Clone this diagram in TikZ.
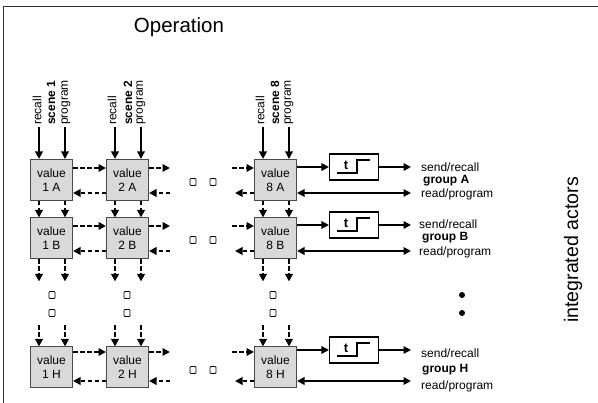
\documentclass[tikz,border=0pt]{standalone}
\usepackage{fontspec}
\setmainfont{Liberation Sans}
\usetikzlibrary{arrows.meta,calc}
\definecolor{boxfill}{HTML}{D9D9D9}
\definecolor{boxline}{HTML}{4A4A4A}
\definecolor{framegray}{HTML}{333333}
\begin{document}
\begin{tikzpicture}[x=1pt,y=-1pt,
  >={Triangle[length=7.5pt,width=7.5pt]},
  valbox/.style={draw=boxline, fill=boxfill, line width=1pt, minimum width=42pt, minimum height=41pt, inner sep=0pt, align=center, font=\fontsize{12}{14}\selectfont},
  tbox/.style={draw=black, line width=1.1pt, minimum width=49pt, minimum height=26pt, inner sep=0pt},
  feed/.style={->, line width=2pt},
  feedthin/.style={->, line width=1.3pt},
  link/.style={->, line width=1.8pt, dash pattern=on 4.5pt off 2.5pt},
  lab/.style={font=\fontsize{12}{13}\selectfont, inner sep=0pt},
  vlab/.style={lab, rotate=90, anchor=west},
  rlab/.style={font=\fontsize{12}{14}\selectfont, inner sep=0pt, anchor=west},
  glyph/.style={draw, line width=0.7pt, minimum width=6pt, minimum height=7pt, rounded corners=0.8pt, inner sep=0pt},
  blob/.style={circle, fill=black, minimum size=6pt, inner sep=0pt},
  frameline/.style={draw=framegray, line width=1.2pt}]
\useasboundingbox (0,0) rectangle (598,403);
\draw[frameline] (3.5,410) -- (3.5,6.5) -- (610,6.5);

\node[font=\fontsize{20.5}{24}\selectfont] (title) at (179,27) {Operation};
\node[rotate=90, font=\fontsize{19.6}{22}\selectfont] (actors) at (573,250) {integrated actors};

% value boxes
\foreach \rr/\yc in {A/180,B/238.5,H/367.5} {
  \node[valbox] (v1\rr) at (51.5,\yc) {value\\1 \rr};
  \node[valbox] (v2\rr) at (127.5,\yc) {value\\2 \rr};
  \node[valbox] (v8\rr) at (275.5,\yc) {value\\8 \rr};
}

% scene labels and inputs
\foreach \cc/\xa/\xb/\xc in {1/37/51/66, 2/112/128/141, 8/260/275/289} {
  \node[vlab] (rec\cc) at (\xa,125) {recall};
  \node[vlab, font=\fontsize{12}{13}\selectfont\bfseries] (sc\cc) at (\xb,125) {scene \cc};
  \node[vlab] (prg\cc) at (\xc,125) {program};
  \draw[feed] ([xshift=-12.5pt,yshift=32pt]v\cc A.north) -- ([xshift=-12.5pt]v\cc A.north);
  \draw[feedthin] ([xshift=13.5pt,yshift=32pt]v\cc A.north) -- ([xshift=13.5pt]v\cc A.north);
  % A -> B
  \draw[link] ([xshift=-12.5pt]v\cc A.south) -- ([xshift=-12.5pt]v\cc B.north);
  \draw[link] ([xshift=13.5pt]v\cc A.south) -- ([xshift=13.5pt]v\cc B.north);
  % below B
  \draw[link] ([xshift=-12.5pt]v\cc B.south) -- ([xshift=-12.5pt,yshift=-22pt]v\cc B.south);
  \draw[link] ([xshift=13.5pt]v\cc B.south) -- ([xshift=13.5pt,yshift=-22pt]v\cc B.south);
  % above H
  \draw[link] ([xshift=-12.5pt,yshift=21pt]v\cc H.north) -- ([xshift=-12.5pt]v\cc H.north);
  \draw[link] ([xshift=13.5pt,yshift=21pt]v\cc H.north) -- ([xshift=13.5pt]v\cc H.north);
}

% horizontal links, t boxes, outputs
\foreach \rr/\yt/\yb/\ty/\wi/\wo/\wb in {A/168/193/167/2/2/1.3, B/226/251/225/1.4/1.4/1.9, H/352/381/350/1.4/1.2/2.3} {
  \draw[link] (v1\rr.east |- 0,\yt) -- (v2\rr.west |- 0,\yt);
  \draw[link] (v2\rr.east |- 0,\yt) -- (170,\yt);
  \draw[link] (232,\yt) -- (v8\rr.west |- 0,\yt);
  \draw[link] (v8\rr.west |- 0,\yb) -- (235,\yb);
  \draw[link] (170,\yb) -- (v2\rr.east |- 0,\yb);
  \draw[link] (v2\rr.west |- 0,\yb) -- (v1\rr.east |- 0,\yb);
  \node[tbox] (t\rr) at (354,\ty) {};
  \node[font=\fontsize{13}{14}\selectfont\bfseries, inner sep=0pt] (tl\rr) at ($(t\rr.center)+(-8,-1.5)$) {t};
  \draw[line width=1.1pt] ($(t\rr.center)+(-17,6)$) -- ++(20,0) -- ++(0,-13) -- ++(13,0);
  \draw[->, line width=\wi pt] (v8\rr.east |- t\rr.west) -- (t\rr.west);
  \draw[->, line width=\wo pt] (t\rr.east) -- (411,\ty);
  \draw[<->, line width=\wb pt] (v8\rr.east |- 0,\yb) -- (411,\yb);
}

% right labels
\node[rlab] (srA) at (421,167) {send/recall};
\node[rlab, font=\fontsize{12}{14}\selectfont\bfseries] (gA) at (423,181) {group A};
\node[rlab] (rpA) at (421,194) {read/program};
\node[rlab] (srB) at (419,224) {send/recall};
\node[rlab, font=\fontsize{12}{14}\selectfont\bfseries] (gB) at (422,238) {group B};
\node[rlab] (rpB) at (419,252) {read/program};
\node[rlab] (srH) at (421,353) {send/recall};
\node[rlab, font=\fontsize{12}{14}\selectfont\bfseries] (gH) at (422,370) {group H};
\node[rlab] (rpH) at (421,386) {read/program};

% ellipsis glyphs
\node[glyph] (eA1) at (193,182) {};
\node[glyph] (eA2) at (213,182) {};
\node[glyph] (eB1) at (193,240) {};
\node[glyph] (eB2) at (213,240) {};
\node[glyph] (eH1) at (193,370) {};
\node[glyph] (eH2) at (213,370) {};
\node[glyph] (e11) at (52,295) {};
\node[glyph] (e12) at (52,313) {};
\node[glyph] (e21) at (127,295) {};
\node[glyph] (e22) at (127,313) {};
\node[glyph] (e81) at (273,295) {};
\node[glyph] (e82) at (273,313) {};
\node[blob] (d1) at (462,295) {};
\node[blob] (d2) at (462,313) {};
\end{tikzpicture}
\end{document}
